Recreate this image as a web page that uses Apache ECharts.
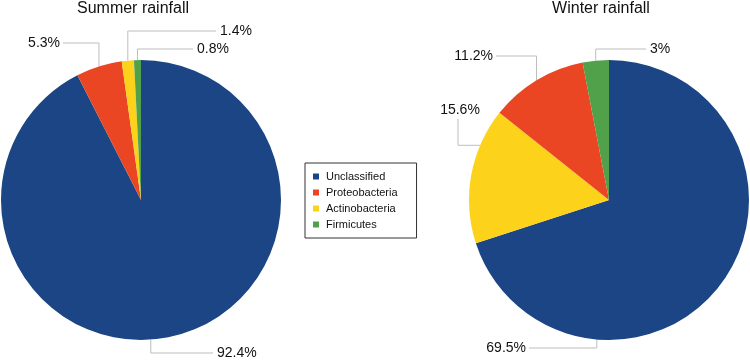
<!DOCTYPE html>
<html>
<head>
<meta charset="utf-8">
<script src="https://cdn.jsdelivr.net/npm/echarts@6/dist/echarts.min.js"></script>
<style>
  html, body { margin: 0; padding: 0; background: #fff; }
  #chart { width: 750px; height: 362px; }
</style>
</head>
<body>
<div id="chart"></div>
<script>
// phylum shares of 16S reads, per season
const categories = ['Unclassified', 'Proteobacteria', 'Actinobacteria', 'Firmicutes'];
const summerValues = [92.4, 5.3, 1.4, 0.8];
const winterValues = [69.5, 11.2, 15.6, 3];
// clockwise order of slices in each pie (index into categories)
const summerOrder = [0, 1, 2, 3];
const winterOrder = [0, 2, 1, 3];

const palette = ['#1b4584', '#ea4624', '#fcd21a', '#51a04a'];
const FONT = '"Liberation Sans", Arial, sans-serif';

const pies = [
  { title: 'Summer rainfall', center: [141, 200], r: 140, values: summerValues, order: summerOrder },
  { title: 'Winter rainfall', center: [609, 200], r: 140, values: winterValues, order: winterOrder },
];

// where each value label sits; ang = anchor angle on rim (deg clockwise from top), else slice middle
const labelSpots = [
  {
    Unclassified:   { x: 217, y: 353, align: 'left', ang: 176, bend: 'v' },
    Proteobacteria: { x: 60, y: 43, align: 'right', bend: 'v' },
    Actinobacteria: { x: 220, y: 31, align: 'left', bend: 'v' },
    Firmicutes:     { x: 197, y: 49, align: 'left', bend: 'v' },
  },
  {
    Unclassified:   { x: 526, y: 348, align: 'right', ang: 185, bend: 'v' },
    Proteobacteria: { x: 493, y: 56, align: 'right', bend: 'v' },
    Actinobacteria: { x: 460, y: 110, align: 'center', ang: 293, bend: 'h' },
    Firmicutes:     { x: 650, y: 49, align: 'left', bend: 'v' },
  },
];

function rimPoint(p, ang) {
  const a = ang * Math.PI / 180;
  return [p.center[0] + p.r * Math.sin(a), p.center[1] - p.r * Math.cos(a)];
}

const chart = echarts.init(document.getElementById('chart'), null, { renderer: 'canvas' });

chart.setOption({
  animation: false,
  title: pies.map((p) => ({
    text: p.title,
    left: p.center[0] - 8,
    top: 1,
    padding: 0,
    textAlign: 'center',
    textStyle: { fontFamily: FONT, fontSize: 16, fontWeight: 'normal', color: '#111' },
  })),
  legend: {
    orient: 'vertical',
    left: 305,
    top: 163,
    data: categories,
    icon: 'rect',
    itemWidth: 6,
    itemHeight: 6,
    itemGap: 5,
    padding: [8, 19, 8, 8],
    borderColor: '#333',
    borderWidth: 1,
    textStyle: { fontFamily: FONT, fontSize: 11, lineHeight: 11, color: '#111', padding: [0, 0, 0, 2] },
  },
  series: pies.map((p, si) => ({
    type: 'pie',
    center: p.center,
    radius: p.r,
    startAngle: 90,
    clockwise: true,
    avoidLabelOverlap: false,
    data: p.order.map((ci) => ({
      name: categories[ci],
      value: p.values[ci],
      itemStyle: { color: palette[ci] },
    })),
    label: {
      show: true,
      position: 'outside',
      formatter: '{c}%',
      fontFamily: FONT,
      fontSize: 14,
      color: '#111',
    },
    labelLine: { show: true, length: 10, length2: 10, lineStyle: { color: '#bdbdbd', width: 1 } },
    emphasis: { disabled: true },
    labelLayout: (params) => {
      const name = categories[p.order[params.dataIndex]];
      const spot = labelSpots[si][name];
      const anchor = spot.ang != null ? rimPoint(p, spot.ang) : params.labelLinePoints[0];
      let pts;
      if (spot.bend === 'v') {
        const endX = spot.align === 'left' ? spot.x - 4 : spot.x + 3;
        pts = [anchor, [anchor[0], spot.y], [endX, spot.y]];
      } else {
        const bx = spot.x - 2;
        pts = [anchor, [bx, anchor[1]], [bx, spot.y + 9]];
      }
      return {
        x: spot.x,
        y: spot.y,
        align: spot.align,
        verticalAlign: 'middle',
        labelLinePoints: pts,
      };
    },
  })),
});
</script>
</body>
</html>
